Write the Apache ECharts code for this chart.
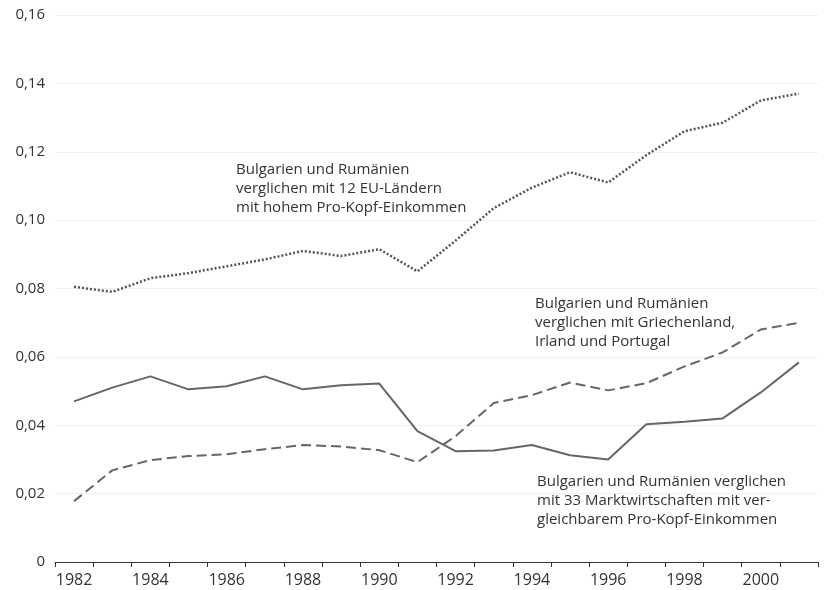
<!DOCTYPE html>
<html>
<head>
<meta charset="utf-8">
<script src="https://cdn.jsdelivr.net/npm/echarts@6/dist/echarts.min.js"></script>
<style>
html,body{margin:0;padding:0;background:#fff;}
#chart{width:825px;height:590px;}
</style>
</head>
<body>
<div id="chart"></div>
<script>
var years = ['1982','1983','1984','1985','1986','1987','1988','1989','1990','1991','1992','1993','1994','1995','1996','1997','1998','1999','2000','2001'];
var euHigh = [0.0805,0.079,0.083,0.0845,0.0865,0.0885,0.091,0.0895,0.0915,0.085,0.094,0.1035,0.1095,0.114,0.111,0.119,0.126,0.1285,0.135,0.137];
var grcIrlPrt = [0.0178,0.0268,0.0298,0.031,0.0315,0.033,0.0342,0.0338,0.0327,0.0292,0.0368,0.0465,0.0488,0.0525,0.0502,0.0523,0.0572,0.0613,0.068,0.070];
var market33 = [0.047,0.051,0.0543,0.0505,0.0514,0.0543,0.0505,0.0517,0.0522,0.0383,0.0324,0.0326,0.0342,0.0312,0.030,0.0403,0.041,0.042,0.0496,0.0584];
var yTicks = [0,0.02,0.04,0.06,0.08,0.10,0.12,0.14,0.16];

var FONT = '"Open Sans", sans-serif';
var chart = echarts.init(document.getElementById('chart'));
function fmt(v){ if (v === 0) return '0'; return v.toFixed(2).replace('.', ','); }
chart.setOption({
  animation: false,
  backgroundColor: '#fff',
  grid: {left: 55, right: 7, top: 15, bottom: 28},
  xAxis: {
    type: 'category',
    data: years,
    boundaryGap: true,
    axisLine: {lineStyle: {color: '#333', width: 1.2}},
    axisTick: {show: true, length: 5, alignWithLabel: false, interval: 0, lineStyle: {color: '#333'}},
    axisLabel: {interval: 1, color: '#333', fontSize: 16, fontFamily: FONT, margin: 10},
    splitLine: {show: false}
  },
  yAxis: {
    type: 'value',
    min: yTicks[0], max: yTicks[yTicks.length - 1], interval: 0.02,
    axisLine: {show: false},
    axisTick: {show: false},
    axisLabel: {color: '#333', fontSize: 15, fontFamily: FONT, margin: 10, formatter: fmt},
    splitLine: {show: true, lineStyle: {color: '#efefef', width: 1}}
  },
  series: [
    {type: 'line', name: 'EU12', data: euHigh, symbol: 'none',
     lineStyle: {color: '#555', width: 2.5, type: [2, 2]}},
    {type: 'line', name: 'GIP', data: grcIrlPrt, symbol: 'none',
     lineStyle: {color: '#666', width: 2, type: [10, 5]}},
    {type: 'line', name: 'M33', data: market33, symbol: 'none',
     lineStyle: {color: '#666', width: 2}}
  ],
  graphic: [
    {type: 'text', left: 236, top: 160, style: {text: 'Bulgarien und Rumänien\nverglichen mit 12 EU-Ländern\nmit hohem Pro-Kopf-Einkommen', font: '15px ' + FONT, fill: '#333', lineHeight: 19}},
    {type: 'text', left: 535, top: 294, style: {text: 'Bulgarien und Rumänien\nverglichen mit Griechenland,\nIrland und Portugal', font: '15px ' + FONT, fill: '#333', lineHeight: 19}},
    {type: 'text', left: 537, top: 472, style: {text: 'Bulgarien und Rumänien verglichen\nmit 33 Marktwirtschaften mit ver-\ngleichbarem Pro-Kopf-Einkommen', font: '15px ' + FONT, fill: '#333', lineHeight: 19}}
  ]
});
</script>
</body>
</html>
